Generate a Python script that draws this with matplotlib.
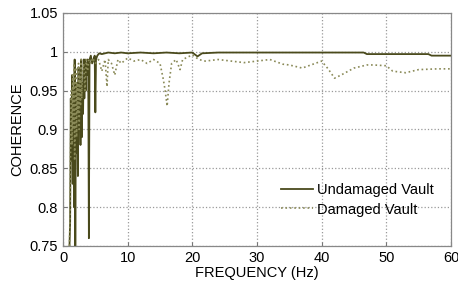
import matplotlib
matplotlib.use("Agg")
import matplotlib.pyplot as plt

# undamaged vault coherence
und_f = [1.0, 1.1, 1.2, 1.3, 1.4, 1.5, 1.6, 1.7, 1.8, 1.9,
         2.0, 2.1, 2.2, 2.3, 2.4, 2.5, 2.6, 2.7, 2.8, 2.9,
         3.0, 3.1, 3.2, 3.3, 3.4, 3.5, 3.6, 3.7, 3.8, 3.9,
         4.0, 4.1, 4.3, 4.5, 4.7, 4.9, 5.0, 5.1, 5.3, 5.6,
         6, 7, 8, 9, 10, 12, 14, 16, 18, 20,
         20.8, 21.5, 24, 28, 32, 36, 40, 44, 46.5, 47,
         50, 54, 56.5, 57, 60]
und_c = [0.75, 0.78, 0.94, 0.86, 0.97, 0.83, 0.95, 0.80, 0.99, 0.75,
         0.93, 0.87, 0.96, 0.84, 0.98, 0.90, 0.95, 0.88, 0.99, 0.89,
         0.96, 0.92, 0.99, 0.94, 0.99, 0.95, 0.985, 0.97, 0.99, 0.98,
         0.76, 0.99, 0.995, 0.985, 0.99, 0.995, 0.922, 0.99, 0.995, 0.998,
         0.997, 0.999, 0.998, 0.999, 0.998, 0.999, 0.998, 0.999, 0.998, 0.999,
         0.994, 0.998, 0.999, 0.999, 0.999, 0.999, 0.999, 0.999, 0.999, 0.997,
         0.997, 0.997, 0.997, 0.995, 0.995]

# damaged vault coherence
dam_f = [1.0, 1.1, 1.2, 1.3, 1.4, 1.5, 1.6, 1.7, 1.8, 1.9,
         2.0, 2.1, 2.2, 2.3, 2.4, 2.5, 2.6, 2.7, 2.8, 2.9,
         3.0, 3.2, 3.4, 3.6, 3.8, 4.0, 4.3, 4.6, 5.0, 5.5,
         6.0, 6.5, 6.8, 7.0, 7.5, 8.0, 8.5, 9.0, 10, 11,
         12, 13, 14, 15, 15.5, 15.8, 16.1, 16.4, 16.8, 17.5,
         18.1, 18.5, 19, 20, 21, 22, 24, 26, 28, 30,
         32, 34, 35, 37, 38, 40, 41, 42, 43, 45,
         47, 48, 50, 51, 53, 55, 58, 60]
dam_c = [0.75, 0.80, 0.90, 0.95, 0.88, 0.97, 0.90, 0.985, 0.86, 0.93,
         0.98, 0.89, 0.96, 0.92, 0.985, 0.90, 0.97, 0.93, 0.99, 0.94,
         0.975, 0.985, 0.95, 0.99, 0.975, 0.99, 0.985, 0.992, 0.985, 0.99,
         0.975, 0.99, 0.955, 0.99, 0.985, 0.97, 0.99, 0.985, 0.992, 0.988,
         0.99, 0.985, 0.99, 0.985, 0.965, 0.95, 0.93, 0.96, 0.985, 0.99,
         0.977, 0.99, 0.992, 0.996, 0.99, 0.988, 0.99, 0.988, 0.986, 0.988,
         0.99, 0.984, 0.983, 0.979, 0.982, 0.988, 0.978, 0.966, 0.970, 0.979,
         0.983, 0.983, 0.982, 0.975, 0.973, 0.977, 0.978, 0.978]

xticks = [0, 10, 20, 30, 40, 50, 60]
yticks = [0.75, 0.8, 0.85, 0.9, 0.95, 1.0, 1.05]
ytick_labels = ["0.75", "0.8", "0.85", "0.9", "0.95", "1", "1.05"]

plt.rcParams['font.family'] = ['Liberation Sans', 'DejaVu Sans']

fig = plt.figure(figsize=(4.58, 2.87), dpi=100)
ax = fig.add_axes([0.1376, 0.143, 0.847, 0.812])

ax.plot(und_f, und_c, color='#4a4a1c', lw=1.3, ls='-', label='Undamaged Vault')
ax.plot(dam_f, dam_c, color='#8a8a58', lw=1.2, ls=':', label='Damaged Vault')

ax.set_xlim(0, 60)
ax.set_ylim(0.75, 1.05)
ax.set_xticks(xticks)
ax.set_yticks(yticks)
ax.set_yticklabels(ytick_labels)
ax.tick_params(labelsize=10.5, direction='in', length=3, color='#777777')
ax.grid(True, ls=':', color='#999999', lw=0.9)
for s in ax.spines.values():
    s.set_color('#888888')
    s.set_linewidth(0.9)

ax.set_xlabel("FREQUENCY (Hz)", fontsize=10.5, labelpad=1)
ax.set_ylabel("COHERENCE", fontsize=10.5, labelpad=4)

ax.legend(loc='lower right', bbox_to_anchor=(0.99, 0.07), frameon=False,
          fontsize=10.5, handlelength=2.2, handletextpad=0.3, labelspacing=0.35)

fig.savefig("out.png", dpi=100)
